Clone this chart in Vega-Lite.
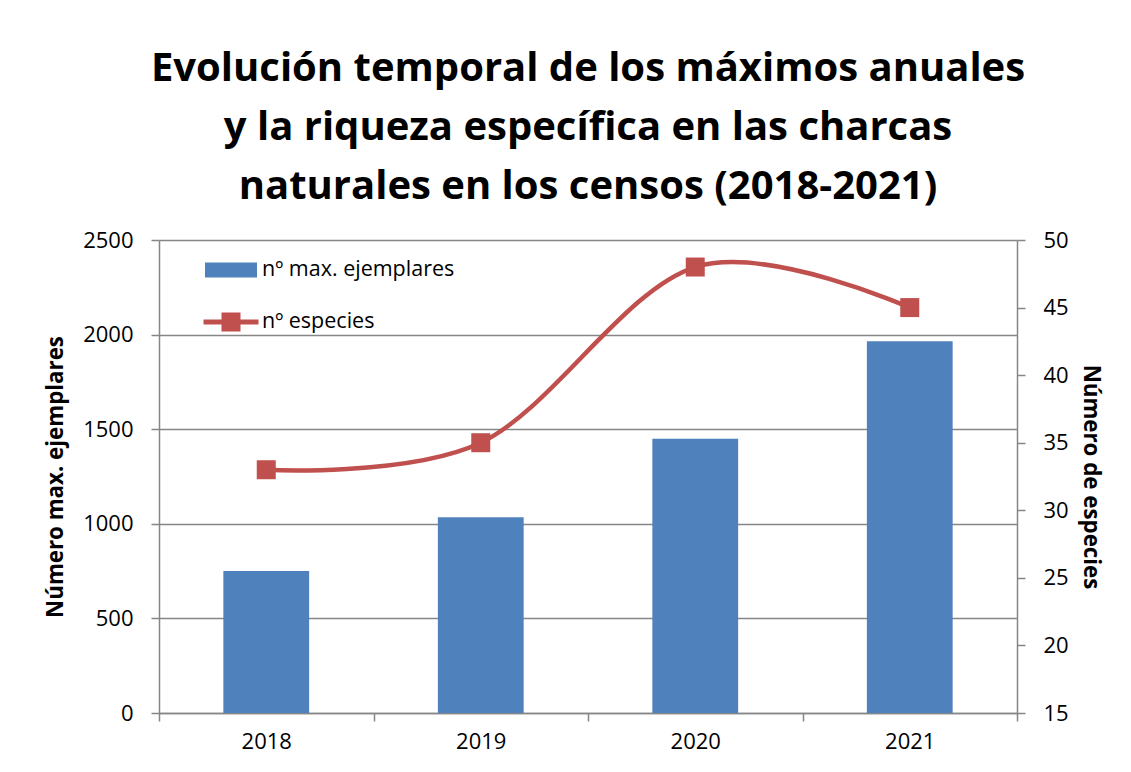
{
  "$schema": "https://vega.github.io/schema/vega-lite/v6.json",
  "autosize": {"type": "none"},
  "width": 858,
  "height": 473,
  "padding": {"left": 159, "top": 240, "right": 114, "bottom": 59},
  "background": "white",
  "config": {
    "view": {"stroke": null},
    "font": "Open Sans",
    "axis": {
      "labelFont": "Open Sans",
      "labelFontSize": 22,
      "labelColor": "black",
      "titleFont": "Open Sans",
      "titleFontSize": 22.3,
      "titleFontWeight": "bold",
      "titleColor": "black",
      "domainColor": "#868686",
      "domainWidth": 1.5,
      "tickColor": "#868686",
      "tickWidth": 1.5,
      "tickSize": 8,
      "gridColor": "#868686",
      "gridWidth": 1.3
    }
  },
  "title": {
    "text": ["Evolución temporal de los máximos anuales", "y la riqueza específica en las charcas", "naturales en los censos (2018-2021)"],
    "font": "Open Sans",
    "fontSize": 40,
    "fontWeight": "bold",
    "color": "black",
    "lineHeight": 59,
    "anchor": "middle",
    "frame": "group",
    "offset": 22
  },
  "data": {
    "values": [
      {"year": "2018", "ejemplares": 750, "especies": 33},
      {"year": "2019", "ejemplares": 1035, "especies": 35},
      {"year": "2020", "ejemplares": 1450, "especies": 48},
      {"year": "2021", "ejemplares": 1965, "especies": 45}
    ]
  },
  "encoding": {
    "x": {
      "field": "year",
      "type": "ordinal",
      "scale": {"paddingInner": 0, "paddingOuter": 0},
      "axis": {"title": null, "labelAngle": 0, "tickBand": "extent", "labelPadding": 10, "grid": false}
    }
  },
  "layer": [
    {
      "mark": {"type": "bar", "color": "#4F81BD", "width": {"band": 0.4}},
      "encoding": {
        "y": {
          "field": "ejemplares",
          "type": "quantitative",
          "scale": {"domain": [0, 2500], "nice": false},
          "axis": {
            "title": "Número max. ejemplares",
            "values": [0, 500, 1000, 1500, 2000, 2500],
            "format": "d",
            "grid": true,
            "labelPadding": 18,
            "titlePadding": 15
          }
        },
        "color": {
          "datum": "nº max. ejemplares",
          "scale": {"domain": ["nº max. ejemplares", "nº especies"], "range": ["#4F81BD", "#C0504D"]},
          "legend": {
            "title": null,
            "orient": "none",
            "legendX": 47,
            "legendY": 5,
            "padding": 0,
            "symbolSize": 2500,
            "symbolStrokeWidth": 0,
            "labelFont": "Open Sans",
            "labelFontSize": 21.5,
            "labelColor": "black",
            "labelOffset": 6,
            "labelLimit": 400,
            "rowPadding": 16
          }
        }
      }
    },
    {
      "encoding": {
        "y": {
          "field": "especies",
          "type": "quantitative",
          "scale": {"domain": [15, 50], "nice": false, "zero": false},
          "axis": {
            "orient": "right",
            "title": "Número de especies",
            "values": [15, 20, 25, 30, 35, 40, 45, 50],
            "grid": false,
            "labelPadding": 18,
            "titlePadding": 10
          }
        }
      },
      "layer": [
        {
          "mark": {"type": "line", "interpolate": "cardinal", "color": "#C0504D", "strokeWidth": 4.5}
        },
        {
          "mark": {"type": "point", "shape": "square", "filled": true, "size": 361, "color": "#C0504D", "opacity": 1}
        },
        {
          "mark": {"type": "point", "filled": true, "opacity": 0},
          "encoding": {
            "shape": {
              "datum": "nº especies",
              "scale": {
                "domain": ["nº max. ejemplares", "nº especies"],
                "range": ["M-1.04,-0.3H1.04V0.3H-1.04Z", "M-1.1,-0.1H-0.38V-0.38H0.38V-0.1H1.1V0.1H0.38V0.38H-0.38V0.1H-1.1Z"]
              },
              "legend": {"title": null}
            },
            "color": {"datum": "nº especies"}
          }
        }
      ]
    }
  ],
  "resolve": {"scale": {"y": "independent"}}
}
